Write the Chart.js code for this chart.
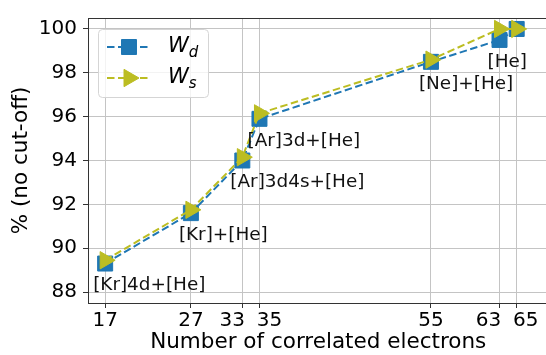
<!DOCTYPE html>
<html>
<head>
<meta charset="utf-8">
<script src="https://cdn.jsdelivr.net/npm/chart.js@4.4.0/dist/chart.umd.min.js"></script>
<style>
  html, body { margin: 0; padding: 0; background: #fff; overflow: hidden; }
  #wrap { width: 560px; height: 355px; }
</style>
</head>
<body>
<div id="wrap"><canvas id="chart" width="560" height="355"></canvas></div>
<script>
// number of correlated electrons (x) and % of the no-cut-off value (y)
const electrons = [17, 27, 33, 35, 55, 63, 65];
const wdValues = [89.3, 91.6, 94.0, 95.9, 98.5, 99.5, 100.0];
const wsValues = [89.45, 91.75, 94.15, 96.15, 98.6, 100.0, 100.0];
const coreLabels = ['[Kr]4d+[He]', '[Kr]+[He]', '[Ar]3d4s+[He]', '[Ar]3d+[He]', '[Ne]+[He]', '[He]', ''];
const xTicks = [17, 27, 33, 35, 55, 63, 65];
const yTicks = [88, 90, 92, 94, 96, 98, 100];

const BLUE = '#1f77b4';
const OLIVE = '#bcbd22';
const FONT = '"DejaVu Sans", sans-serif';

// crowded tick labels are nudged sideways (px)
const xLabelShift = { 33: -10, 35: 10, 63: -11, 65: 9 };

const legendItems = [
    { name: 'W', sub: 'd', color: BLUE, style: 'rect', radius: 10.6, rotation: 0 },
    { name: 'W', sub: 's', color: OLIVE, style: 'triangle', radius: 10, rotation: 90 }
];

// x tick labels, top spine, point labels and the legend box with subscripts
const overlay = {
    id: 'overlay',
    afterDraw(chart) {
        const { ctx, chartArea, scales: { x, y } } = chart;
        ctx.save();

        ctx.strokeStyle = '#333';
        ctx.lineWidth = 1;
        ctx.beginPath();
        ctx.moveTo(chartArea.left, chartArea.top + 0.5);
        ctx.lineTo(chartArea.right, chartArea.top + 0.5);
        ctx.stroke();

        ctx.font = '20px ' + FONT;
        ctx.fillStyle = '#000';
        ctx.textAlign = 'center';
        ctx.textBaseline = 'middle';
        xTicks.forEach(v => {
            ctx.fillText(String(v), x.getPixelForValue(v) + (xLabelShift[v] || 0), chartArea.bottom + 18);
        });

        ctx.font = '18.4px ' + FONT;
        ctx.fillStyle = '#111';
        ctx.textAlign = 'left';
        coreLabels.forEach((txt, i) => {
            if (!txt) return;
            ctx.fillText(txt, x.getPixelForValue(electrons[i]) - 12, y.getPixelForValue(wdValues[i]) + 22);
        });

        // legend
        const bx = chartArea.left + 10, by = chartArea.top + 11;
        ctx.beginPath();
        ctx.roundRect(bx + 0.5, by + 0.5, 110, 68, 4);
        ctx.fillStyle = 'rgba(255,255,255,0.8)';
        ctx.fill();
        ctx.strokeStyle = '#d5d5d5';
        ctx.stroke();

        legendItems.forEach((item, i) => {
            const ry = by + 18 + i * 31;
            ctx.strokeStyle = item.color;
            ctx.lineWidth = 2;
            ctx.setLineDash([7.5, 3.5]);
            ctx.beginPath();
            ctx.moveTo(bx + 9, ry);
            ctx.lineTo(bx + 52, ry);
            ctx.stroke();
            ctx.setLineDash([]);
            ctx.fillStyle = item.color;
            ctx.lineWidth = 1;
            Chart.helpers.drawPoint(ctx, {
                pointStyle: item.style, radius: item.radius, rotation: item.rotation, borderWidth: 1
            }, bx + 31, ry);

            ctx.fillStyle = '#000';
            ctx.textBaseline = 'middle';
            ctx.font = 'italic 21px ' + FONT;
            ctx.fillText(item.name, bx + 70, ry);
            const w = ctx.measureText(item.name).width;
            ctx.font = 'italic 15px ' + FONT;
            ctx.fillText(item.sub, bx + 70 + w, ry + 6);
        });

        ctx.restore();
    }
};

const makeSeries = (label, values, color, style, radius, rotation, order) => ({
    label: label,
    data: values.map((v, i) => ({ x: electrons[i], y: v })),
    order: order,
    borderColor: color,
    backgroundColor: color,
    borderWidth: 2,
    borderDash: [7.5, 3.5],
    pointStyle: style,
    pointRadius: radius,
    pointRotation: rotation,
    pointBorderWidth: 1,
    pointBorderColor: color,
    pointBackgroundColor: color,
    tension: 0
});

new Chart(document.getElementById('chart'), {
    type: 'line',
    data: {
        datasets: [
            makeSeries('Wd', wdValues, BLUE, 'rect', 10.6, 0, 2),
            makeSeries('Ws', wsValues, OLIVE, 'triangle', 10, 90, 1)
        ]
    },
    options: {
        responsive: false,
        animation: false,
        devicePixelRatio: 1,
        layout: { padding: { left: 0, top: 12, right: 10, bottom: 0 } },
        plugins: { legend: { display: false }, tooltip: { enabled: false } },
        scales: {
            x: {
                type: 'linear',
                min: 15,
                max: 68.7,
                afterBuildTicks: (s) => { s.ticks = xTicks.map(v => ({ value: v })); },
                afterFit: (s) => { s.height = 52; },
                ticks: { display: false },
                grid: { color: '#c4c4c4', lineWidth: 1, tickLength: 5, tickColor: '#333' },
                border: { color: '#333', width: 1 },
                title: {
                    display: true,
                    text: 'Number of correlated electrons',
                    font: { family: FONT, size: 21.5 },
                    color: '#000',
                    padding: { top: 0, bottom: 0 }
                }
            },
            y: {
                min: 87.5,
                max: 100.5,
                afterBuildTicks: (s) => { s.ticks = yTicks.map(v => ({ value: v })); },
                afterFit: (s) => { s.width = 88; },
                ticks: { font: { family: FONT, size: 20 }, color: '#000', padding: 6 },
                grid: { color: '#c4c4c4', lineWidth: 1, tickLength: 5, tickColor: '#333' },
                border: { color: '#333', width: 1 },
                title: {
                    display: true,
                    text: '% (no cut-off)',
                    font: { family: FONT, size: 21.5 },
                    color: '#000',
                    padding: { top: 9, bottom: 0 }
                }
            }
        }
    },
    plugins: [overlay]
});
</script>
</body>
</html>
